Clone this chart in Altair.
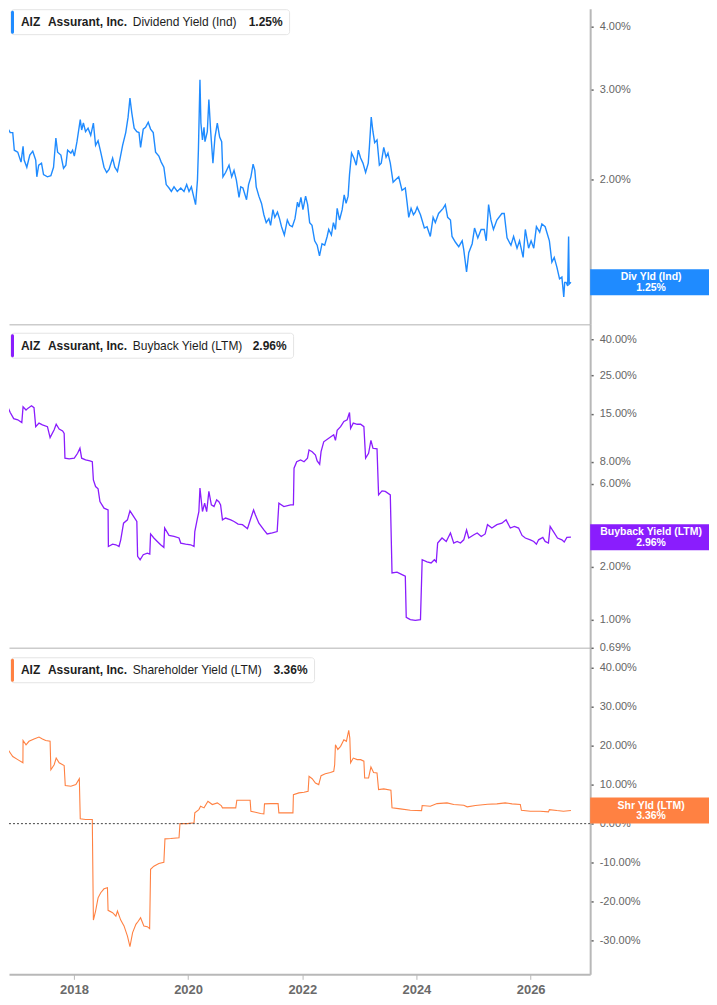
import altair as alt
import pandas as pd

# AIZ - Assurant, Inc. : yields in percent
dividend_yield = [
    ("2016-09-21", 2.26), ("2016-10-01", 2.20), ("2016-10-16", 2.21), ("2016-10-22", 2.39),
    ("2016-11-03", 2.52), ("2016-11-19", 2.47), ("2016-12-05", 2.47), ("2016-12-15", 2.28),
    ("2017-01-06", 2.26), ("2017-01-27", 2.16), ("2017-02-09", 2.32), ("2017-02-16", 2.18),
    ("2017-03-05", 2.11), ("2017-03-24", 2.23), ("2017-04-12", 2.27), ("2017-05-01", 2.18),
    ("2017-05-08", 2.02), ("2017-05-20", 2.13), ("2017-06-07", 2.15), ("2017-06-20", 2.04),
    ("2017-07-15", 2.02), ("2017-08-06", 2.03), ("2017-08-23", 2.11), ("2017-09-07", 2.41),
    ("2017-09-18", 2.26), ("2017-10-09", 2.23), ("2017-10-26", 2.10), ("2017-11-10", 2.13),
    ("2017-11-21", 2.28), ("2017-12-12", 2.25), ("2017-12-23", 2.28), ("2018-01-03", 2.22),
    ("2018-01-20", 2.37), ("2018-02-10", 2.62), ("2018-02-19", 2.50), ("2018-03-02", 2.58),
    ("2018-03-16", 2.48), ("2018-04-01", 2.52), ("2018-04-18", 2.44), ("2018-05-05", 2.58),
    ("2018-05-19", 2.33), ("2018-06-04", 2.38), ("2018-06-21", 2.26), ("2018-07-12", 2.11),
    ("2018-07-29", 2.06), ("2018-08-13", 2.09), ("2018-09-05", 2.20), ("2018-09-19", 2.11),
    ("2018-10-06", 2.07), ("2018-10-22", 2.19), ("2018-11-08", 2.33), ("2018-11-28", 2.47),
    ("2018-12-13", 2.65), ("2018-12-25", 2.89), ("2019-01-06", 2.70), ("2019-01-21", 2.52),
    ("2019-02-07", 2.48), ("2019-02-21", 2.47), ("2019-03-03", 2.31), ("2019-03-20", 2.51),
    ("2019-04-04", 2.53), ("2019-04-21", 2.59), ("2019-05-06", 2.51), ("2019-05-23", 2.47),
    ("2019-06-07", 2.26), ("2019-06-28", 2.22), ("2019-07-13", 2.16), ("2019-07-30", 2.11),
    ("2019-08-14", 1.95), ("2019-09-01", 1.92), ("2019-09-16", 1.89), ("2019-10-03", 1.93),
    ("2019-10-24", 1.89), ("2019-11-15", 1.92), ("2019-12-06", 1.89), ("2019-12-23", 1.95),
    ("2020-01-07", 1.89), ("2020-01-22", 1.93), ("2020-02-05", 1.85), ("2020-02-18", 1.78),
    ("2020-03-01", 1.99), ("2020-03-07", 2.28), ("2020-03-17", 3.14), ("2020-03-23", 2.58),
    ("2020-04-02", 2.39), ("2020-04-12", 2.53), ("2020-04-18", 2.37), ("2020-05-03", 2.48),
    ("2020-05-13", 2.87), ("2020-05-24", 2.50), ("2020-06-08", 2.15), ("2020-06-21", 2.42),
    ("2020-07-06", 2.58), ("2020-07-21", 2.42), ("2020-08-03", 2.37), ("2020-08-11", 2.02),
    ("2020-08-28", 2.06), ("2020-09-19", 2.13), ("2020-10-06", 2.02), ("2020-10-21", 2.08),
    ("2020-11-05", 1.99), ("2020-11-22", 1.84), ("2020-12-03", 1.93), ("2020-12-17", 1.92),
    ("2021-01-09", 1.82), ("2021-01-22", 1.95), ("2021-02-06", 2.02), ("2021-02-20", 2.14),
    ("2021-03-03", 2.08), ("2021-03-12", 1.93), ("2021-03-29", 1.85), ("2021-04-15", 1.79),
    ("2021-04-30", 1.70), ("2021-05-15", 1.64), ("2021-06-01", 1.67), ("2021-06-12", 1.62),
    ("2021-06-27", 1.74), ("2021-07-09", 1.68), ("2021-07-26", 1.72), ("2021-08-08", 1.67),
    ("2021-08-21", 1.61), ("2021-09-08", 1.55), ("2021-09-27", 1.66), ("2021-10-12", 1.62),
    ("2021-10-29", 1.61), ("2021-11-15", 1.67), ("2021-12-01", 1.80), ("2021-12-10", 1.76),
    ("2021-12-23", 1.84), ("2022-01-05", 1.74), ("2022-01-22", 1.85), ("2022-02-04", 1.78),
    ("2022-02-17", 1.64), ("2022-03-04", 1.62), ("2022-03-21", 1.51), ("2022-04-06", 1.48),
    ("2022-04-21", 1.41), ("2022-05-07", 1.49), ("2022-05-24", 1.48), ("2022-06-09", 1.54),
    ("2022-06-19", 1.59), ("2022-07-06", 1.55), ("2022-07-19", 1.64), ("2022-08-01", 1.59),
    ("2022-08-12", 1.75), ("2022-08-27", 1.66), ("2022-09-13", 1.74), ("2022-09-26", 1.86),
    ("2022-10-08", 1.79), ("2022-10-21", 1.85), ("2022-10-30", 2.04), ("2022-11-12", 2.25),
    ("2022-11-27", 2.20), ("2022-12-12", 2.13), ("2022-12-25", 2.28), ("2023-01-09", 2.20),
    ("2023-01-24", 2.15), ("2023-02-10", 2.06), ("2023-02-27", 2.15), ("2023-03-06", 2.31),
    ("2023-03-18", 2.65), ("2023-03-29", 2.48), ("2023-04-09", 2.36), ("2023-04-24", 2.39),
    ("2023-05-09", 2.13), ("2023-05-21", 2.15), ("2023-06-06", 2.31), ("2023-06-21", 2.21),
    ("2023-07-03", 2.25), ("2023-07-18", 2.15), ("2023-08-05", 1.97), ("2023-08-19", 1.99),
    ("2023-09-10", 2.02), ("2023-10-01", 1.90), ("2023-10-22", 1.92), ("2023-11-03", 1.79),
    ("2023-11-13", 1.68), ("2023-11-28", 1.75), ("2023-12-13", 1.70), ("2023-12-25", 1.72),
    ("2024-01-06", 1.76), ("2024-01-27", 1.70), ("2024-02-21", 1.60), ("2024-03-09", 1.61),
    ("2024-03-30", 1.54), ("2024-04-17", 1.68), ("2024-05-01", 1.64), ("2024-05-22", 1.71),
    ("2024-06-20", 1.75), ("2024-07-04", 1.78), ("2024-07-19", 1.68), ("2024-08-06", 1.66),
    ("2024-08-16", 1.54), ("2024-09-07", 1.50), ("2024-09-28", 1.47), ("2024-10-20", 1.51),
    ("2024-10-30", 1.45), ("2024-11-17", 1.31), ("2024-12-01", 1.43), ("2024-12-23", 1.49),
    ("2025-01-07", 1.60), ("2025-01-28", 1.53), ("2025-02-18", 1.59), ("2025-03-10", 1.59),
    ("2025-03-23", 1.51), ("2025-04-07", 1.78), ("2025-04-22", 1.66), ("2025-05-08", 1.59),
    ("2025-05-30", 1.66), ("2025-07-01", 1.71), ("2025-07-16", 1.71), ("2025-08-03", 1.53),
    ("2025-08-28", 1.48), ("2025-09-14", 1.54), ("2025-10-06", 1.46), ("2025-10-22", 1.51),
    ("2025-11-14", 1.40), ("2025-11-28", 1.59), ("2025-12-19", 1.46), ("2026-01-04", 1.51),
    ("2026-01-21", 1.46), ("2026-02-07", 1.61), ("2026-02-28", 1.57), ("2026-03-14", 1.63),
    ("2026-04-04", 1.61), ("2026-05-01", 1.51), ("2026-05-17", 1.37), ("2026-06-01", 1.40),
    ("2026-06-18", 1.34), ("2026-07-05", 1.27), ("2026-07-20", 1.28), ("2026-08-01", 1.17),
    ("2026-08-07", 1.25), ("2026-08-16", 1.25), ("2026-08-26", 1.23), ("2026-09-01", 1.54),
    ("2026-09-05", 1.24), ("2026-09-16", 1.25),
]

buyback_yield = [
    ("2016-09-21", 10.2), ("2016-10-16", 10.05), ("2016-10-22", 13.0), ("2016-11-03", 16.5),
    ("2016-11-19", 15.3), ("2016-12-11", 14.1), ("2017-01-06", 13.9), ("2017-02-01", 13.4),
    ("2017-02-09", 16.5), ("2017-02-28", 15.8), ("2017-03-13", 16.2), ("2017-04-04", 16.7),
    ("2017-04-20", 16.3), ("2017-05-01", 12.7), ("2017-05-22", 13.3), ("2017-06-13", 13.0),
    ("2017-07-15", 12.7), ("2017-08-01", 11.0), ("2017-08-27", 12.2), ("2017-09-09", 13.1),
    ("2017-09-28", 12.3), ("2017-10-20", 12.0), ("2017-10-30", 11.6), ("2017-11-04", 8.38),
    ("2017-12-01", 8.30), ("2018-01-03", 8.38), ("2018-01-24", 8.94), ("2018-02-08", 9.55),
    ("2018-02-19", 8.38), ("2018-03-16", 8.19), ("2018-04-13", 8.08), ("2018-04-28", 8.00),
    ("2018-05-05", 6.30), ("2018-05-19", 5.77), ("2018-06-04", 5.60), ("2018-06-16", 4.73),
    ("2018-07-12", 4.34), ("2018-08-07", 4.24), ("2018-08-09", 2.62), ("2018-09-05", 2.70),
    ("2018-09-26", 2.68), ("2018-10-16", 2.62), ("2018-10-27", 2.86), ("2018-11-14", 3.56),
    ("2018-12-09", 3.72), ("2018-12-25", 4.19), ("2019-01-17", 3.89), ("2019-02-07", 3.64),
    ("2019-02-12", 2.30), ("2019-02-28", 2.20), ("2019-03-20", 2.35), ("2019-04-15", 2.40),
    ("2019-05-01", 2.37), ("2019-05-06", 3.09), ("2019-05-27", 2.93), ("2019-06-18", 2.80),
    ("2019-07-09", 2.68), ("2019-07-30", 2.59), ("2019-08-04", 3.34), ("2019-09-01", 3.03),
    ("2019-10-03", 2.99), ("2019-11-04", 2.93), ("2019-11-15", 2.74), ("2019-12-16", 2.70),
    ("2020-01-18", 2.68), ("2020-02-08", 2.62), ("2020-02-13", 3.19), ("2020-03-01", 3.81),
    ("2020-03-10", 4.15), ("2020-03-17", 5.65), ("2020-04-02", 4.15), ("2020-04-16", 4.63),
    ("2020-04-29", 4.15), ("2020-05-13", 5.41), ("2020-05-29", 4.53), ("2020-06-15", 4.43),
    ("2020-07-02", 4.84), ("2020-07-16", 4.73), ("2020-07-27", 4.53), ("2020-08-08", 3.72),
    ("2020-08-28", 3.81), ("2020-09-30", 3.72), ("2020-10-21", 3.64), ("2020-11-16", 3.52),
    ("2020-12-14", 3.49), ("2021-01-15", 3.31), ("2021-02-06", 3.81), ("2021-02-23", 4.24),
    ("2021-03-07", 3.97), ("2021-03-29", 3.56), ("2021-04-30", 3.26), ("2021-05-21", 3.09),
    ("2021-06-23", 3.13), ("2021-07-24", 3.19), ("2021-08-04", 4.63), ("2021-09-05", 4.43),
    ("2021-10-18", 4.53), ("2021-11-05", 4.53), ("2021-11-09", 7.34), ("2021-11-26", 8.00),
    ("2021-12-21", 8.19), ("2022-01-12", 8.00), ("2022-02-03", 8.38), ("2022-02-13", 9.34),
    ("2022-03-05", 9.13), ("2022-03-26", 8.74), ("2022-04-06", 8.08), ("2022-04-22", 7.74),
    ("2022-05-01", 9.13), ("2022-05-18", 10.4), ("2022-06-19", 10.9), ("2022-07-21", 11.4),
    ("2022-08-01", 10.6), ("2022-08-12", 12.1), ("2022-09-03", 12.7), ("2022-09-24", 13.6),
    ("2022-10-15", 13.9), ("2022-10-30", 15.3), ("2022-11-06", 12.4), ("2022-11-23", 13.3),
    ("2022-12-18", 13.1), ("2023-01-09", 13.1), ("2023-01-30", 12.7), ("2023-02-10", 8.38),
    ("2023-03-01", 8.94), ("2023-03-16", 10.6), ("2023-03-29", 9.55), ("2023-04-24", 9.47),
    ("2023-05-04", 5.17), ("2023-05-26", 5.45), ("2023-06-16", 5.41), ("2023-07-18", 5.17),
    ("2023-07-29", 1.85), ("2023-08-30", 1.87), ("2023-10-01", 1.81), ("2023-10-22", 1.77),
    ("2023-10-28", 1.03), ("2023-11-23", 1.00), ("2023-12-25", 0.99), ("2024-01-27", 1.00),
    ("2024-02-07", 2.20), ("2024-03-09", 2.14), ("2024-04-04", 2.11), ("2024-04-25", 2.20),
    ("2024-05-07", 2.14), ("2024-05-16", 2.74), ("2024-06-13", 2.93), ("2024-07-10", 2.80),
    ("2024-08-06", 3.13), ("2024-08-27", 2.74), ("2024-09-18", 2.80), ("2024-10-09", 2.74),
    ("2024-10-30", 2.86), ("2024-11-17", 3.26), ("2024-12-01", 2.93), ("2025-01-03", 3.06),
    ("2025-01-24", 3.13), ("2025-02-19", 2.99), ("2025-03-16", 3.09), ("2025-03-31", 3.49),
    ("2025-04-28", 3.34), ("2025-05-30", 3.49), ("2025-07-01", 3.56), ("2025-07-28", 3.72),
    ("2025-08-24", 3.34), ("2025-09-19", 3.41), ("2025-10-16", 3.34), ("2025-11-07", 3.03),
    ("2025-11-28", 2.93), ("2025-12-30", 2.86), ("2026-01-21", 2.80), ("2026-02-07", 2.70),
    ("2026-02-21", 2.86), ("2026-03-20", 2.95), ("2026-04-04", 2.80), ("2026-04-25", 2.74),
    ("2026-05-06", 3.41), ("2026-05-27", 3.19), ("2026-06-22", 2.93), ("2026-07-20", 2.86),
    ("2026-08-04", 2.78), ("2026-08-21", 2.95), ("2026-09-16", 2.96),
]

shareholder_yield = [
    ("2016-09-21", 12.3), ("2016-10-16", 12.3), ("2016-10-29", 19.4), ("2016-11-13", 18.5),
    ("2016-12-05", 17.2), ("2017-01-06", 16.4), ("2017-02-08", 15.6), ("2017-02-09", 21.3),
    ("2017-02-28", 20.2), ("2017-03-19", 21.1), ("2017-04-20", 21.7), ("2017-05-22", 22.2),
    ("2017-06-13", 21.7), ("2017-07-04", 21.3), ("2017-08-01", 21.1), ("2017-08-06", 13.8),
    ("2017-08-27", 15.1), ("2017-09-09", 16.8), ("2017-09-28", 15.6), ("2017-10-30", 14.9),
    ("2017-11-06", 9.75), ("2017-12-12", 9.57), ("2018-01-13", 10.0), ("2018-02-04", 11.5),
    ("2018-02-10", 1.23), ("2018-03-16", 1.05), ("2018-04-28", 1.05), ("2018-05-05", -24.7),
    ("2018-05-19", -22.4), ("2018-06-04", -19.0), ("2018-06-21", -17.7), ("2018-07-12", -16.7),
    ("2018-08-03", -16.4), ("2018-08-07", -22.2), ("2018-09-05", -22.8), ("2018-09-26", -23.7),
    ("2018-10-06", -22.4), ("2018-10-27", -24.7), ("2018-11-17", -26.2), ("2018-12-09", -28.8),
    ("2018-12-25", -31.5), ("2019-01-11", -27.9), ("2019-02-01", -25.8), ("2019-02-16", -25.0),
    ("2019-03-03", -24.1), ("2019-03-24", -26.2), ("2019-04-15", -26.4), ("2019-04-30", -26.9),
    ("2019-05-06", -11.7), ("2019-05-27", -10.9), ("2019-06-28", -10.2), ("2019-07-30", -9.9),
    ("2019-08-06", -3.9), ("2019-09-12", -3.8), ("2019-11-04", -3.6), ("2019-11-10", 0.0),
    ("2019-12-27", 0.0), ("2020-02-08", 0.2), ("2020-02-13", 2.76), ("2020-03-10", 3.6),
    ("2020-03-21", 4.45), ("2020-04-12", 4.04), ("2020-05-07", 5.73), ("2020-06-04", 4.89),
    ("2020-07-06", 5.32), ("2020-07-31", 4.63), ("2020-08-08", 4.04), ("2020-09-19", 4.04),
    ("2020-11-01", 4.04), ("2020-11-08", 5.99), ("2020-12-14", 5.99), ("2021-02-01", 5.99),
    ("2021-02-06", 3.17), ("2021-03-07", 2.92), ("2021-04-09", 2.58), ("2021-04-30", 2.51),
    ("2021-05-04", 5.07), ("2021-06-12", 5.14), ("2021-07-30", 5.14), ("2021-08-04", 2.76),
    ("2021-09-16", 2.76), ("2021-11-02", 2.76), ("2021-11-05", 7.44), ("2021-12-10", 7.88),
    ("2022-01-12", 8.03), ("2022-02-07", 8.29), ("2022-02-13", 12.1), ("2022-03-05", 11.5),
    ("2022-03-26", 10.4), ("2022-04-16", 10.0), ("2022-05-01", 12.3), ("2022-05-28", 12.8),
    ("2022-06-30", 13.1), ("2022-07-21", 13.4), ("2022-07-27", 15.1), ("2022-08-01", 20.2),
    ("2022-08-16", 19.0), ("2022-09-03", 19.8), ("2022-09-24", 21.5), ("2022-10-10", 21.1),
    ("2022-10-25", 23.9), ("2022-11-01", 21.9), ("2022-11-06", 15.6), ("2022-11-23", 16.8),
    ("2022-12-18", 16.4), ("2023-01-09", 16.4), ("2023-01-30", 16.0), ("2023-02-04", 11.7),
    ("2023-03-01", 11.7), ("2023-03-16", 14.5), ("2023-04-02", 13.1), ("2023-04-24", 13.0),
    ("2023-05-04", 8.72), ("2023-06-06", 8.9), ("2023-07-22", 8.54), ("2023-07-29", 4.04),
    ("2023-09-20", 3.79), ("2023-11-23", 3.43), ("2024-02-03", 3.35), ("2024-02-07", 4.63),
    ("2024-03-30", 4.45), ("2024-05-12", 5.14), ("2024-07-15", 5.32), ("2024-08-27", 4.89),
    ("2024-10-30", 4.71), ("2024-11-21", 4.30), ("2025-01-13", 4.63), ("2025-04-01", 4.96),
    ("2025-05-30", 5.07), ("2025-07-22", 5.32), ("2025-09-04", 5.07), ("2025-10-27", 4.89),
    ("2025-11-03", 3.43), ("2025-12-30", 3.17), ("2026-03-03", 3.17), ("2026-04-25", 3.02),
    ("2026-05-01", 3.60), ("2026-06-18", 3.35), ("2026-07-30", 3.17), ("2026-09-16", 3.36),
]

div_ticks = [2, 3, 4]
buyback_ticks = [0.69, 1, 2, 3, 6, 8, 15, 25, 40]
shareholder_ticks = [-30, -20, -10, 0, 10, 20, 30, 40]
year_ticks = [2018, 2020, 2022, 2024, 2026]

BLUE = "#1f8bff"
PURPLE = "#8a1dfd"
ORANGE = "#ff8142"
AXIS_GREY = "#b8b8b8"

X_DOMAIN = [alt.DateTime(year=2016, month=11, date=11), alt.DateTime(year=2027, month=1, date=17)]
PCT_LABEL = "(datum.value < 0 ? '-' : '') + format(abs(datum.value), '.2f') + '%'"
# 119 x 26 px tag, drawn as a custom symbol (size=4 -> path units are pixels)
TAG_SHAPE = "M-59.5,-13L59.5,-13L59.5,13L-59.5,13Z"


def panel(pairs, color, metric, short, y_scale, y_ticks, height,
          legend_top, legend_right, value_x, stroke_w, show_years=False, zero_line=False):
    df = pd.DataFrame(pairs, columns=["date", "value"])
    last = pairs[-1][1]

    if show_years:
        x_axis = alt.Axis(
            values=[alt.DateTime(year=y, month=1, date=1) for y in year_ticks],
            format="%Y", title=None, grid=False,
            domainColor=AXIS_GREY, domainWidth=2, tickColor=AXIS_GREY, tickSize=5,
            labelColor="#6a6a6a", labelFontWeight="bold", labelFontSize=13, labelPadding=4,
        )
    else:
        x_axis = alt.Axis(labels=False, ticks=False, title=None, grid=False,
                          domainColor="#cccccc", domainWidth=1.5)

    line = alt.Chart(df).mark_line(color=color, strokeWidth=stroke_w, clip=True).encode(
        x=alt.X("date:T", scale=alt.Scale(domain=X_DOMAIN, nice=False), axis=x_axis),
        y=alt.Y(
            "value:Q", scale=y_scale,
            axis=alt.Axis(orient="right", values=y_ticks, labelExpr=PCT_LABEL, title=None, grid=False,
                          domainColor=AXIS_GREY, domainWidth=2, tickColor="#666666", tickSize=3,
                          tickWidth=1.5, labelColor="#666666", labelFontSize=11, labelPadding=6),
        ),
    )

    layers = [line]
    if zero_line:
        layers.append(
            alt.Chart(pd.DataFrame({"value": [0]}))
            .mark_rule(color="#444444", strokeDash=[2, 2], strokeWidth=1)
            .encode(y="value:Q")
        )

    # coloured tag at the last value on the right
    tag = alt.Chart(pd.DataFrame({"value": [last]}))
    layers += [
        tag.mark_point(shape=TAG_SHAPE, size=4, filled=True, fill=color, opacity=1, strokeWidth=0).encode(
            x=alt.value(641.5), y="value:Q"),
        tag.mark_text(color="white", fontWeight="bold", fontSize=10.5, dy=-5).encode(
            x=alt.value(643), y="value:Q", text=alt.value(short)),
        tag.mark_text(color="white", fontWeight="bold", fontSize=10.5, dy=5.5).encode(
            x=alt.value(643), y="value:Q", text=alt.value(f"{last:.2f}%")),
    ]

    # legend box top-left
    one = alt.Chart(pd.DataFrame({"k": [0]}))
    layers += [
        one.mark_rect(fill="white", stroke="#e4e4e4", strokeWidth=1, cornerRadius=3).encode(
            x=alt.value(2), x2=alt.value(legend_right),
            y=alt.value(legend_top), y2=alt.value(legend_top + 25)),
        one.mark_rect(fill=color, cornerRadius=1.5).encode(
            x=alt.value(2), x2=alt.value(5),
            y=alt.value(legend_top + 1), y2=alt.value(legend_top + 24)),
    ]
    pieces = [("AIZ", 12, "bold"), ("Assurant, Inc.", 39, "bold"),
              (metric, 124, "normal"), (f"{last:.2f}%", value_x, "bold")]
    for txt, xpos, weight in pieces:
        layers.append(
            one.mark_text(align="left", baseline="middle", fontSize=12, fontWeight=weight,
                          color="#1d1d1d").encode(
                x=alt.value(xpos), y=alt.value(legend_top + 12.7), text=alt.value(txt))
        )

    return alt.layer(*layers).properties(width=582, height=height)


p1 = panel(dividend_yield, BLUE, "Dividend Yield (Ind)", "Div Yld (Ind)",
           alt.Scale(type="log", domain=[1.033, 4.34], nice=False), div_ticks, 316,
           1, 281, 240, 1.4)
p2 = panel(buyback_yield, PURPLE, "Buyback Yield (LTM)", "Buyback Yield (LTM)",
           alt.Scale(type="log", domain=[0.69, 48.9], nice=False), buyback_ticks, 324,
           9, 285, 244, 1.3)
p3 = panel(shareholder_yield, ORANGE, "Shareholder Yield (LTM)", "Shr Yld (LTM)",
           alt.Scale(domain=[-38.6, 45.05], nice=False, zero=False), shareholder_ticks, 327,
           10, 306, 265, 1.1, show_years=True, zero_line=True)

chart = (
    alt.vconcat(p1, p2, p3, spacing=0, bounds="flush")
    .resolve_scale(y="independent")
    .properties(padding={"left": 0, "top": 0, "right": 0, "bottom": 0})
    .configure(font="Liberation Sans")
    .configure_view(stroke=None)
)

chart.save("out.html", embed_options={"renderer": "svg", "actions": False})
